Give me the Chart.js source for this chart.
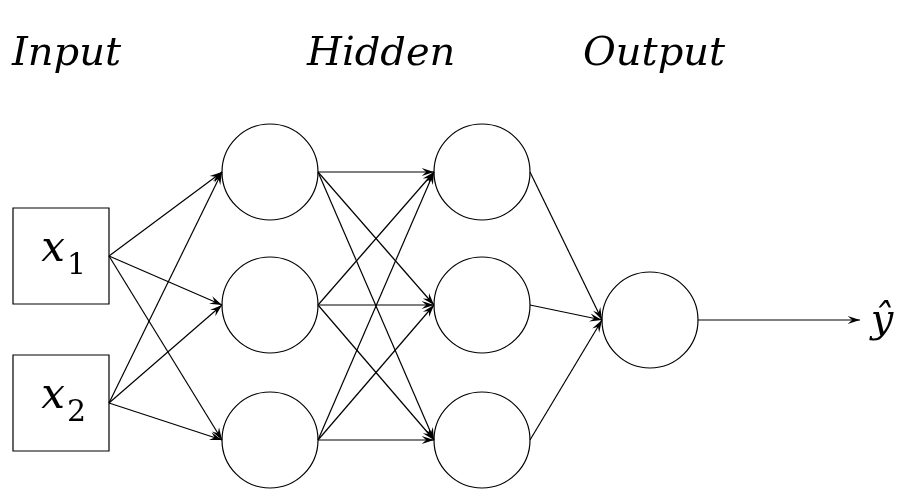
<!DOCTYPE html>
<html>
<head>
<meta charset="utf-8">
<script src="https://cdn.jsdelivr.net/npm/chart.js@4"></script>
<style>
  html, body { margin: 0; padding: 0; background: #fff; }
  #wrap { width: 918px; height: 504px; }
</style>
</head>
<body>
<div id="wrap"><canvas id="net"></canvas></div>
<script>
// node positions in diagram units (x right, y down)
var inputNodes = [{x: 61, y: 256, label: "x", sub: "1"}, {x: 61, y: 403, label: "x", sub: "2"}];
var hidden1Nodes = [{x: 270, y: 172}, {x: 270, y: 305}, {x: 270, y: 440}];
var hidden2Nodes = [{x: 482, y: 172}, {x: 482, y: 305}, {x: 482, y: 440}];
var outputNodes = [{x: 650, y: 320}];
var outputTarget = {x: 860, y: 320};
var layerTitles = ["Input", "Hidden", "Output"];
var layerTitleX = [12, 307, 583];

var boxHalf = 48;
var circleR = 48;

function edgesBetween(from, fromHalf, to, toHalf) {
    var list = [];
    from.forEach(function (a) {
        to.forEach(function (b) {
            list.push([{x: a.x + fromHalf, y: a.y}, {x: b.x - toHalf, y: b.y}]);
        });
    });
    return list;
}

var edges = []
    .concat(edgesBetween(inputNodes, boxHalf, hidden1Nodes, circleR))
    .concat(edgesBetween(hidden1Nodes, circleR, hidden2Nodes, circleR))
    .concat(edgesBetween(hidden2Nodes, circleR, outputNodes, circleR));
edges.push([{x: outputNodes[0].x + circleR, y: outputNodes[0].y}, outputTarget]);

var edgeDatasets = edges.map(function (e) {
    return {
        type: 'line',
        data: e,
        borderColor: '#000',
        borderWidth: 1.2,
        pointRadius: 0,
        fill: false,
        clip: false
    };
});

var arrowPlugin = {
    id: 'arrows',
    afterDatasetsDraw: function (chart) {
        var ctx = chart.ctx;
        var xs = chart.scales.x, ys = chart.scales.y;
        ctx.save();
        ctx.fillStyle = '#000';
        edges.forEach(function (e) {
            var x1 = xs.getPixelForValue(e[0].x), y1 = ys.getPixelForValue(e[0].y);
            var x2 = xs.getPixelForValue(e[1].x), y2 = ys.getPixelForValue(e[1].y);
            var ang = Math.atan2(y2 - y1, x2 - x1);
            var len = 13, w = 0.32;
            ctx.beginPath();
            ctx.moveTo(x2, y2);
            ctx.lineTo(x2 - len * Math.cos(ang - w), y2 - len * Math.sin(ang - w));
            ctx.lineTo(x2 - len * 0.6 * Math.cos(ang), y2 - len * 0.6 * Math.sin(ang));
            ctx.lineTo(x2 - len * Math.cos(ang + w), y2 - len * Math.sin(ang + w));
            ctx.closePath();
            ctx.fill();
        });
        // texts
        ctx.textBaseline = 'middle';
        ctx.font = 'italic 40px "DejaVu Serif"';
        layerTitles.forEach(function (t, i) {
            ctx.textAlign = 'left';
            ctx.fillText(t, xs.getPixelForValue(layerTitleX[i]), ys.getPixelForValue(55));
        });
        inputNodes.forEach(function (n) {
            var px = xs.getPixelForValue(n.x), py = ys.getPixelForValue(n.y);
            ctx.textAlign = 'right';
            ctx.font = 'italic 42px "DejaVu Serif"';
            ctx.fillText(n.label, px + 4, py - 6);
            ctx.textAlign = 'left';
            ctx.font = '30px "DejaVu Serif"';
            ctx.fillText(n.sub, px + 6, py + 10);
        });
        ctx.textAlign = 'center';
        ctx.font = 'italic 40px "DejaVu Serif"';
        var yx = xs.getPixelForValue(outputTarget.x + 22), yy = ys.getPixelForValue(outputTarget.y + 2);
        ctx.fillText('y\u0302', yx, yy);
        ctx.restore();
    }
};

new Chart(document.getElementById('net'), {
    type: 'scatter',
    data: {
        datasets: edgeDatasets.concat([
            {
                data: inputNodes,
                pointStyle: 'rect',
                pointRadius: boxHalf * Math.SQRT2,
                backgroundColor: '#fff',
                borderColor: '#000',
                borderWidth: 1.2,
                clip: false
            },
            {
                data: hidden1Nodes.concat(hidden2Nodes, outputNodes),
                pointStyle: 'circle',
                pointRadius: circleR,
                backgroundColor: '#fff',
                borderColor: '#000',
                borderWidth: 1.2,
                clip: false
            }
        ])
    },
    options: {
        responsive: true,
        maintainAspectRatio: false,
        animation: false,
        layout: { padding: 0, autoPadding: false },
        scales: {
            x: { type: 'linear', min: 0, max: 918, display: false },
            y: { type: 'linear', min: 0, max: 504, reverse: true, display: false }
        },
        plugins: {
            legend: { display: false },
            tooltip: { enabled: false }
        }
    },
    plugins: [arrowPlugin]
});
</script>
</body>
</html>
